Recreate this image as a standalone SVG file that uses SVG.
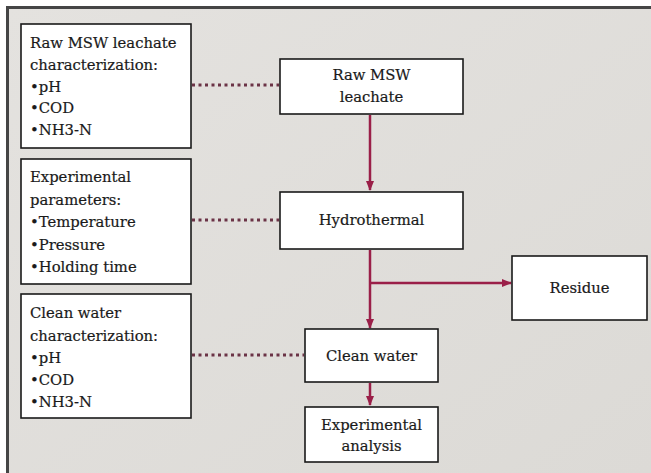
<svg xmlns="http://www.w3.org/2000/svg" width="651" height="473" viewBox="0 0 651 473">
<defs>
<linearGradient id="bg" x1="0" y1="0" x2="1" y2="1">
<stop offset="0" stop-color="#e4e2df"/>
<stop offset="1" stop-color="#dcdad6"/>
</linearGradient>
<marker id="ah" markerUnits="userSpaceOnUse" markerWidth="10" markerHeight="10" viewBox="0 0 10 10" refX="9" refY="5" orient="auto">
<path d="M0,1 L10,5 L0,9 Z" fill="#9a1f48"/>
</marker>
<style>
.box{fill:#ffffff;stroke:#1a1a1a;stroke-width:1.6}
.t{font-family:"DejaVu Serif","Liberation Serif",serif;font-size:14.8px;fill:#1a1a1a;stroke:#1a1a1a;stroke-width:0.2}
.c{text-anchor:middle}
.flow{stroke:#9a1f48;stroke-width:2.5;fill:none}
.dot{stroke:#6b3346;stroke-width:3;stroke-dasharray:3 3.5;fill:none}
</style>
</defs>
<rect x="0" y="0" width="651" height="473" fill="#ffffff"/>
<rect x="7" y="7" width="644" height="466" fill="url(#bg)"/>
<line x1="6" y1="7.5" x2="651" y2="7.5" stroke="#454545" stroke-width="3"/>
<line x1="7.5" y1="6" x2="7.5" y2="473" stroke="#454545" stroke-width="3"/>

<g id="connectors">
<line class="dot" x1="192" y1="85" x2="279" y2="85"/>
<line class="dot" x1="192" y1="220" x2="279" y2="220"/>
<line class="dot" x1="192" y1="355" x2="304" y2="355"/>
<line class="flow" x1="370" y1="115" x2="370" y2="190" marker-end="url(#ah)"/>
<line class="flow" x1="370" y1="250" x2="370" y2="328" marker-end="url(#ah)"/>
<line class="flow" x1="370" y1="283" x2="511" y2="283" marker-end="url(#ah)"/>
<line class="flow" x1="370" y1="383" x2="370" y2="405" marker-end="url(#ah)"/>
</g>

<g id="raw-char">
<rect class="box" x="21" y="24" width="170" height="124"/>
<text class="t" x="30" y="48">Raw MSW leachate</text>
<text class="t" x="30" y="70">characterization:</text>
<text class="t" x="30" y="92">•pH</text>
<text class="t" x="30" y="113">•COD</text>
<text class="t" x="30" y="135">•NH3-N</text>
</g>

<g id="exp-params">
<rect class="box" x="21" y="159" width="170" height="125"/>
<text class="t" x="30" y="182">Experimental</text>
<text class="t" x="30" y="205">parameters:</text>
<text class="t" x="30" y="227">•Temperature</text>
<text class="t" x="30" y="250">•Pressure</text>
<text class="t" x="30" y="272">•Holding time</text>
</g>

<g id="clean-char">
<rect class="box" x="21" y="294" width="170" height="124"/>
<text class="t" x="30" y="318">Clean water</text>
<text class="t" x="30" y="341">characterization:</text>
<text class="t" x="30" y="363">•pH</text>
<text class="t" x="30" y="385">•COD</text>
<text class="t" x="30" y="407">•NH3-N</text>
</g>

<g id="raw">
<rect class="box" x="280" y="59" width="183" height="55"/>
<text class="t c" x="371.5" y="80">Raw MSW</text>
<text class="t c" x="371.5" y="102">leachate</text>
</g>

<g id="hydrothermal">
<rect class="box" x="280" y="192" width="183" height="57"/>
<text class="t c" x="371.5" y="225">Hydrothermal</text>
</g>

<g id="residue">
<rect class="box" x="512" y="256" width="135" height="64"/>
<text class="t c" x="579.5" y="293">Residue</text>
</g>

<g id="clean-water">
<rect class="box" x="305" y="329" width="133" height="53"/>
<text class="t c" x="371.5" y="361">Clean water</text>
</g>

<g id="analysis">
<rect class="box" x="305" y="407" width="133" height="55"/>
<text class="t c" x="371.5" y="430">Experimental</text>
<text class="t c" x="371.5" y="451">analysis</text>
</g>
</svg>
